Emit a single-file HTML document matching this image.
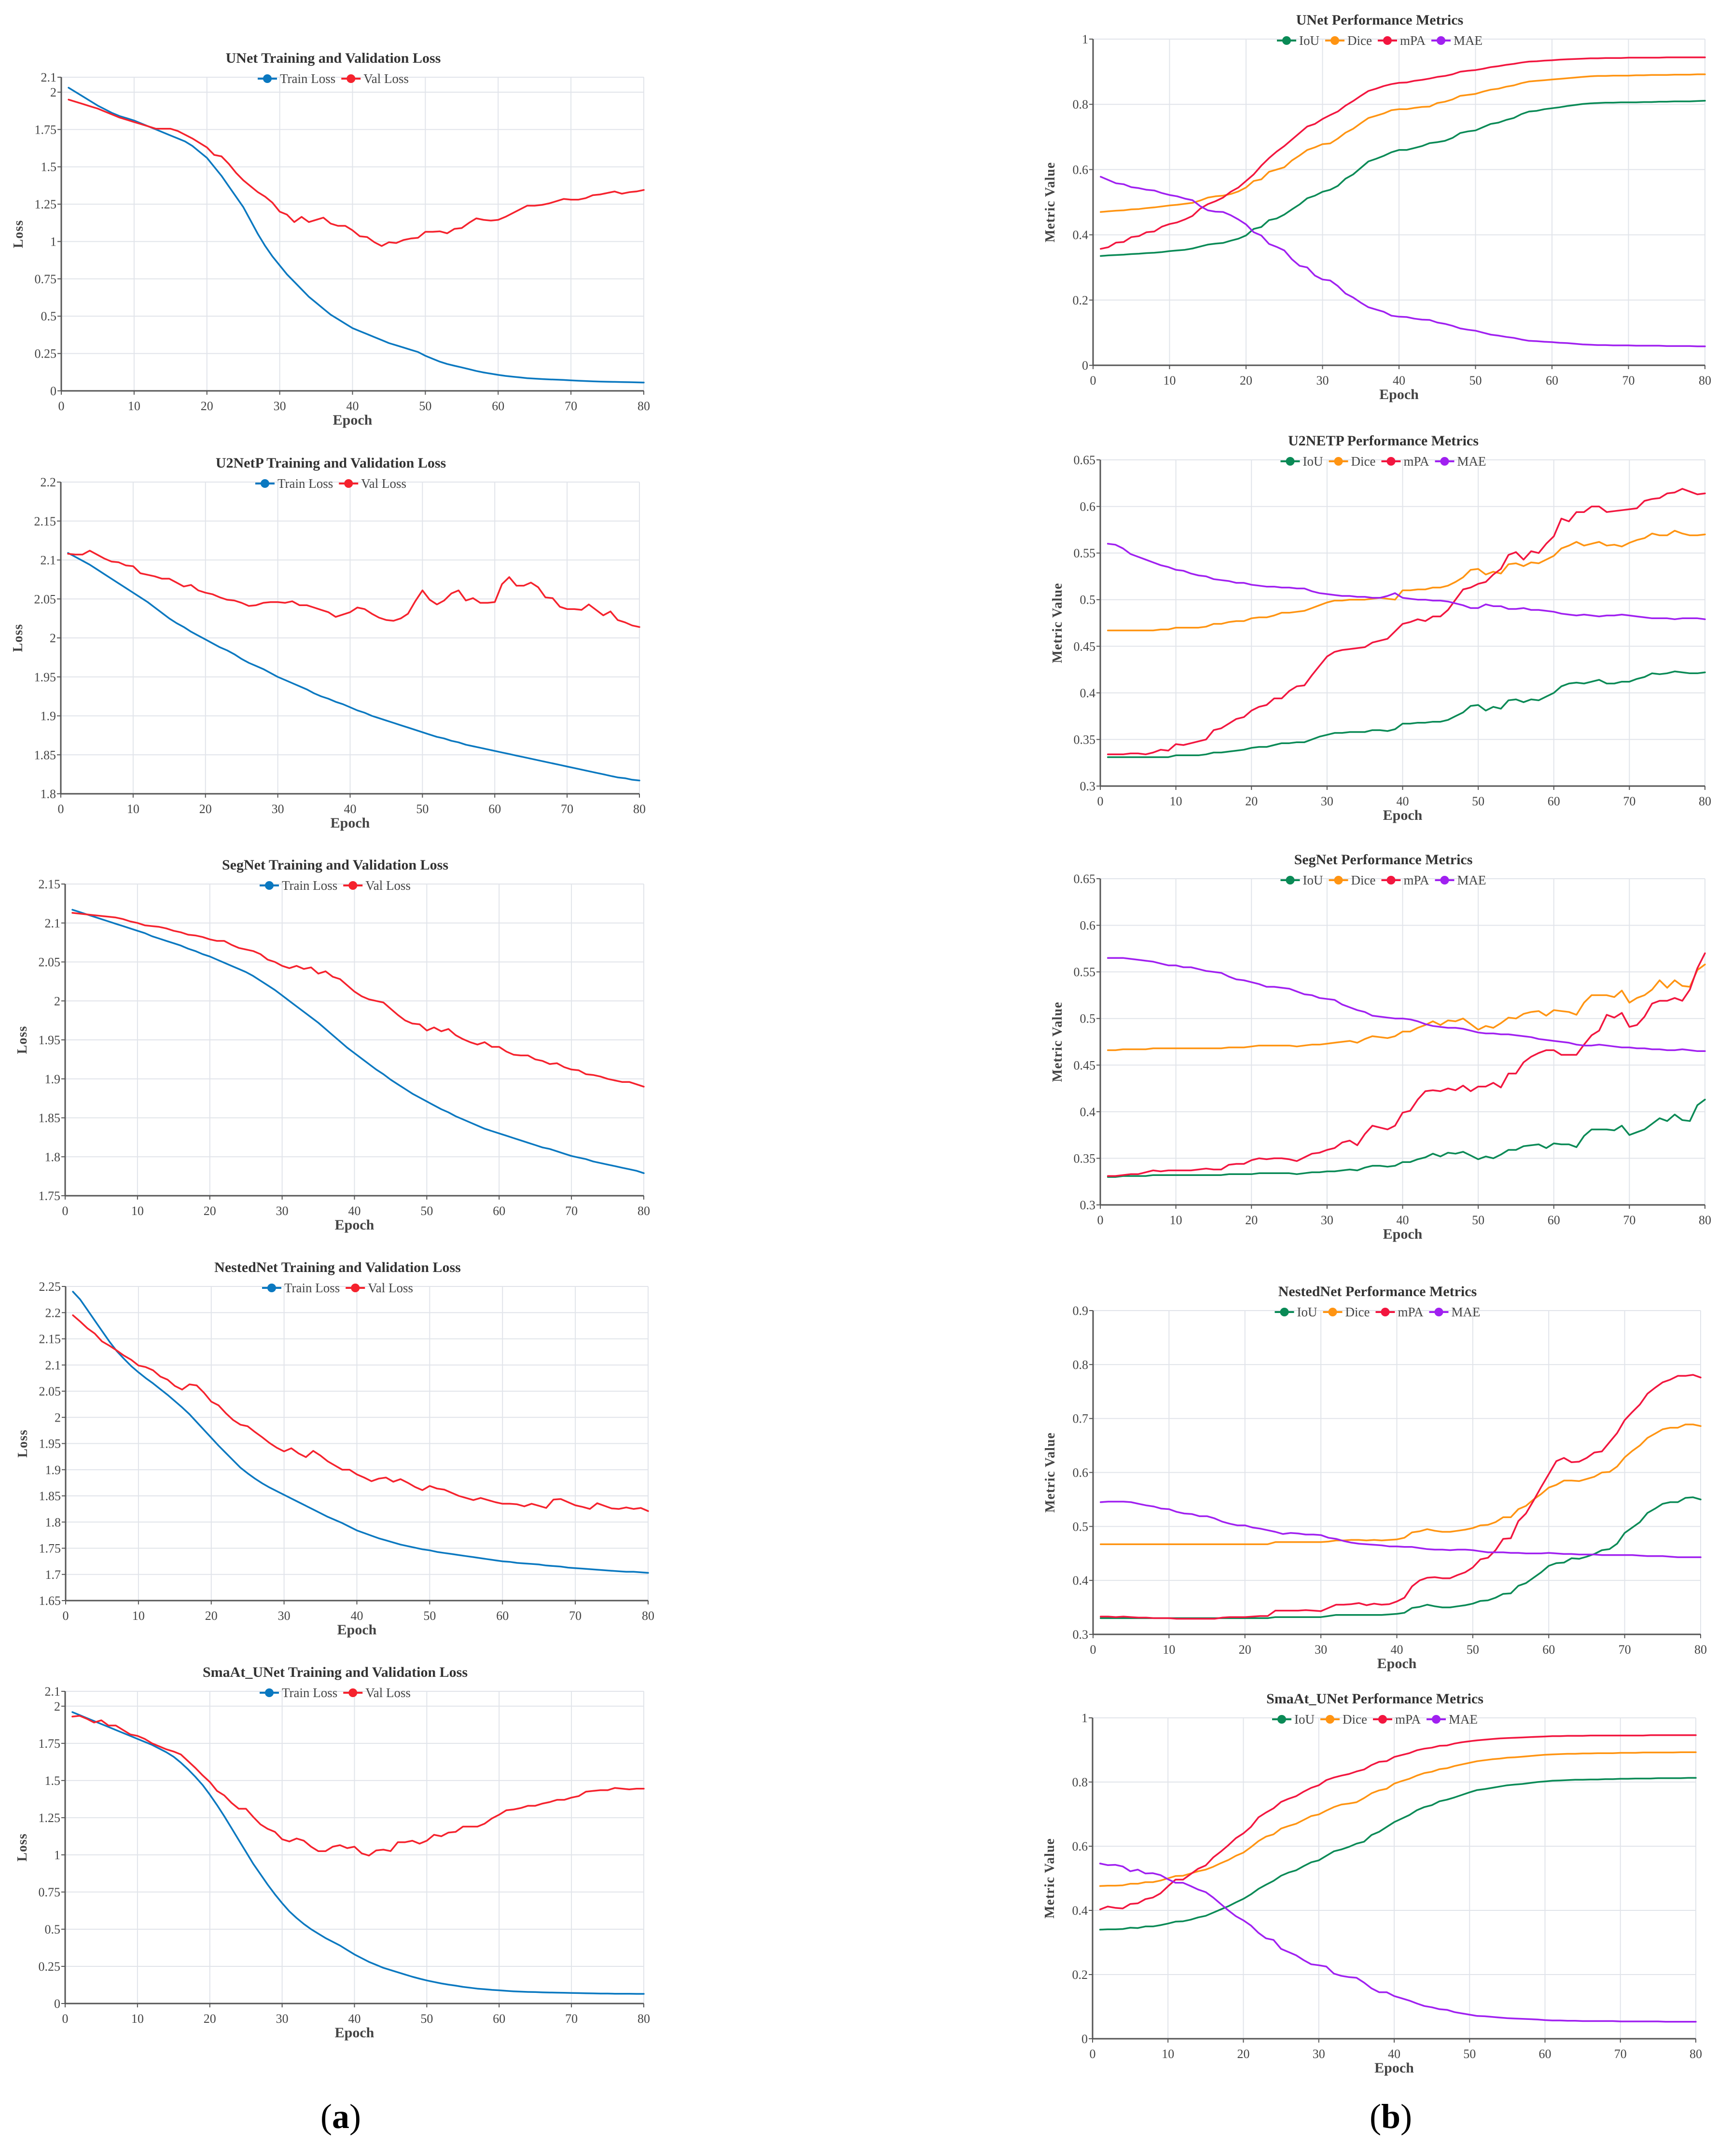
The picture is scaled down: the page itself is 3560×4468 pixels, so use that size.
<!DOCTYPE html>
<html><head><meta charset="utf-8"><style>
html,body{margin:0;padding:0;background:#fff;}
svg{display:block;font-family:"Liberation Serif",serif;}
</style></head><body>
<svg id="fig" width="3560" height="4468" viewBox="0 0 3560 4468" xmlns="http://www.w3.org/2000/svg">
<rect width="3560" height="4468" fill="#fff"/>
<text x="706" y="4410" font-size="72" text-anchor="middle" fill="#000">(<tspan font-weight="bold">a</tspan>)</text>
<text x="2882" y="4410" font-size="72" text-anchor="middle" fill="#000">(<tspan font-weight="bold">b</tspan>)</text>
</svg>
<script>
const epochs = Array.from({length:80},(_,i)=>i+1);
const xTicks = [0,10,20,30,40,50,60,70,80];

const unetTrain = [2.03,2.0,1.97,1.94,1.91,1.885,1.86,1.84,1.825,1.81,1.79,1.77,1.75,1.73,1.71,1.69,1.67,1.64,1.6,1.56,1.5,1.44,1.37,1.3,1.23,1.14,1.05,0.97,0.9,0.84,0.78,0.73,0.68,0.63,0.59,0.55,0.51,0.48,0.45,0.42,0.4,0.38,0.36,0.34,0.32,0.305,0.29,0.275,0.26,0.235,0.215,0.195,0.18,0.168,0.157,0.145,0.133,0.123,0.115,0.107,0.1,0.095,0.09,0.085,0.082,0.079,0.077,0.075,0.073,0.07,0.068,0.066,0.064,0.062,0.061,0.06,0.059,0.058,0.057,0.056];
const unetVal = [1.95,1.935,1.92,1.905,1.89,1.87,1.85,1.83,1.815,1.8,1.785,1.77,1.755,1.755,1.755,1.74,1.715,1.69,1.66,1.63,1.58,1.57,1.52,1.46,1.41,1.37,1.33,1.3,1.26,1.2,1.18,1.13,1.165,1.13,1.145,1.16,1.12,1.105,1.105,1.075,1.035,1.03,0.995,0.97,0.995,0.99,1.01,1.02,1.025,1.065,1.065,1.068,1.055,1.085,1.09,1.125,1.155,1.145,1.14,1.145,1.165,1.19,1.215,1.24,1.24,1.245,1.255,1.27,1.285,1.28,1.28,1.29,1.31,1.315,1.325,1.335,1.32,1.33,1.335,1.345];

const u2Train = [2.109,2.104,2.099,2.094,2.088,2.082,2.076,2.07,2.064,2.058,2.052,2.046,2.039,2.032,2.025,2.019,2.014,2.008,2.003,1.998,1.993,1.988,1.984,1.979,1.973,1.968,1.964,1.96,1.955,1.95,1.946,1.942,1.938,1.934,1.929,1.925,1.922,1.918,1.915,1.911,1.907,1.904,1.9,1.897,1.894,1.891,1.888,1.885,1.882,1.879,1.876,1.873,1.871,1.868,1.866,1.863,1.861,1.859,1.857,1.855,1.853,1.851,1.849,1.847,1.845,1.843,1.841,1.839,1.837,1.835,1.833,1.831,1.829,1.827,1.825,1.823,1.821,1.82,1.818,1.817];
const u2Val = [2.108,2.107,2.107,2.112,2.107,2.102,2.098,2.097,2.093,2.092,2.083,2.081,2.079,2.076,2.076,2.071,2.066,2.068,2.061,2.058,2.056,2.052,2.049,2.048,2.045,2.041,2.042,2.045,2.046,2.046,2.045,2.047,2.042,2.042,2.039,2.036,2.033,2.027,2.03,2.033,2.039,2.037,2.031,2.026,2.023,2.022,2.025,2.031,2.047,2.061,2.049,2.043,2.048,2.057,2.061,2.048,2.051,2.045,2.045,2.046,2.069,2.078,2.067,2.067,2.071,2.065,2.052,2.051,2.04,2.037,2.037,2.036,2.043,2.036,2.029,2.034,2.023,2.02,2.016,2.014];

const segTrain = [2.117,2.114,2.111,2.108,2.105,2.102,2.099,2.096,2.093,2.09,2.087,2.083,2.08,2.077,2.074,2.071,2.067,2.064,2.06,2.057,2.053,2.049,2.045,2.041,2.037,2.032,2.026,2.02,2.014,2.007,2.0,1.993,1.986,1.979,1.972,1.964,1.956,1.948,1.94,1.933,1.926,1.919,1.912,1.906,1.899,1.893,1.887,1.881,1.876,1.871,1.866,1.861,1.857,1.852,1.848,1.844,1.84,1.836,1.833,1.83,1.827,1.824,1.821,1.818,1.815,1.812,1.81,1.807,1.804,1.801,1.799,1.797,1.794,1.792,1.79,1.788,1.786,1.784,1.782,1.779];
const segVal = [2.113,2.112,2.111,2.11,2.109,2.108,2.107,2.105,2.102,2.1,2.097,2.096,2.095,2.093,2.09,2.088,2.085,2.084,2.082,2.079,2.077,2.077,2.072,2.068,2.066,2.064,2.06,2.053,2.05,2.045,2.042,2.045,2.041,2.043,2.035,2.038,2.031,2.028,2.02,2.012,2.006,2.002,2.0,1.998,1.99,1.982,1.975,1.971,1.97,1.962,1.966,1.961,1.964,1.956,1.951,1.947,1.944,1.947,1.941,1.941,1.935,1.931,1.93,1.93,1.925,1.923,1.919,1.92,1.915,1.912,1.911,1.906,1.905,1.903,1.9,1.898,1.896,1.896,1.893,1.89];

const nestTrain = [2.24,2.225,2.205,2.185,2.165,2.145,2.127,2.112,2.098,2.086,2.075,2.065,2.054,2.043,2.031,2.019,2.006,1.991,1.976,1.961,1.946,1.932,1.918,1.904,1.893,1.883,1.874,1.866,1.859,1.852,1.845,1.838,1.831,1.824,1.817,1.81,1.804,1.798,1.791,1.784,1.779,1.774,1.769,1.765,1.761,1.757,1.754,1.751,1.748,1.746,1.743,1.741,1.739,1.737,1.735,1.733,1.731,1.729,1.727,1.725,1.724,1.722,1.721,1.72,1.719,1.717,1.716,1.715,1.713,1.712,1.711,1.71,1.709,1.708,1.707,1.706,1.705,1.705,1.704,1.703];
const nestVal = [2.195,2.183,2.17,2.16,2.145,2.137,2.128,2.118,2.11,2.099,2.096,2.09,2.078,2.072,2.06,2.053,2.063,2.061,2.047,2.03,2.023,2.008,1.995,1.986,1.983,1.972,1.962,1.951,1.942,1.935,1.941,1.931,1.924,1.936,1.927,1.916,1.908,1.9,1.9,1.891,1.885,1.878,1.883,1.885,1.877,1.882,1.875,1.867,1.861,1.869,1.864,1.862,1.856,1.85,1.846,1.842,1.846,1.842,1.838,1.835,1.835,1.834,1.83,1.835,1.831,1.827,1.843,1.844,1.838,1.832,1.829,1.825,1.836,1.831,1.826,1.825,1.828,1.825,1.827,1.821];

const smaTrain = [1.96,1.94,1.92,1.9,1.88,1.86,1.84,1.82,1.8,1.78,1.76,1.74,1.715,1.69,1.66,1.62,1.575,1.525,1.47,1.405,1.335,1.26,1.18,1.1,1.02,0.94,0.87,0.8,0.735,0.675,0.62,0.575,0.535,0.5,0.47,0.44,0.415,0.39,0.36,0.33,0.305,0.28,0.26,0.24,0.225,0.21,0.195,0.18,0.167,0.155,0.145,0.135,0.127,0.12,0.112,0.106,0.1,0.096,0.092,0.089,0.085,0.082,0.08,0.078,0.077,0.075,0.074,0.073,0.072,0.071,0.07,0.069,0.068,0.067,0.067,0.066,0.066,0.066,0.065,0.065];
const smaVal = [1.93,1.935,1.915,1.89,1.905,1.87,1.87,1.84,1.81,1.8,1.78,1.75,1.73,1.71,1.695,1.675,1.63,1.585,1.535,1.49,1.43,1.4,1.35,1.31,1.31,1.255,1.205,1.175,1.155,1.105,1.09,1.11,1.095,1.055,1.025,1.025,1.055,1.065,1.045,1.055,1.01,0.995,1.03,1.035,1.025,1.085,1.085,1.095,1.075,1.095,1.135,1.125,1.15,1.155,1.19,1.19,1.19,1.21,1.245,1.27,1.3,1.305,1.315,1.33,1.33,1.345,1.355,1.37,1.37,1.385,1.395,1.425,1.43,1.435,1.435,1.45,1.445,1.44,1.445,1.445];

const unetIoU = [0.335,0.337,0.338,0.339,0.341,0.342,0.344,0.345,0.347,0.35,0.352,0.354,0.358,0.364,0.37,0.373,0.375,0.382,0.388,0.398,0.418,0.424,0.445,0.45,0.462,0.478,0.493,0.512,0.52,0.532,0.538,0.55,0.572,0.585,0.605,0.625,0.633,0.642,0.653,0.66,0.66,0.666,0.672,0.681,0.684,0.688,0.697,0.712,0.717,0.72,0.73,0.74,0.744,0.752,0.758,0.77,0.778,0.78,0.785,0.788,0.791,0.795,0.798,0.801,0.803,0.804,0.805,0.805,0.806,0.806,0.806,0.807,0.807,0.808,0.808,0.809,0.809,0.809,0.81,0.811];
const unetDice = [0.47,0.472,0.474,0.475,0.478,0.479,0.482,0.484,0.487,0.49,0.492,0.495,0.498,0.505,0.514,0.518,0.52,0.525,0.533,0.545,0.565,0.57,0.593,0.6,0.607,0.628,0.643,0.66,0.668,0.678,0.68,0.695,0.713,0.725,0.742,0.758,0.765,0.772,0.782,0.785,0.785,0.789,0.792,0.793,0.804,0.808,0.815,0.826,0.829,0.832,0.839,0.845,0.848,0.854,0.858,0.865,0.87,0.872,0.874,0.876,0.878,0.88,0.882,0.884,0.886,0.887,0.887,0.888,0.888,0.888,0.889,0.889,0.89,0.89,0.89,0.891,0.891,0.891,0.892,0.892];
const unetMPA = [0.357,0.362,0.376,0.378,0.393,0.396,0.408,0.41,0.425,0.433,0.438,0.447,0.458,0.48,0.494,0.503,0.514,0.532,0.545,0.565,0.585,0.612,0.635,0.655,0.672,0.692,0.712,0.732,0.74,0.755,0.767,0.778,0.796,0.81,0.826,0.841,0.848,0.856,0.862,0.866,0.867,0.872,0.875,0.879,0.884,0.887,0.892,0.9,0.903,0.905,0.909,0.914,0.917,0.921,0.924,0.928,0.931,0.932,0.934,0.935,0.937,0.938,0.939,0.94,0.941,0.941,0.942,0.942,0.942,0.943,0.943,0.943,0.943,0.943,0.944,0.944,0.944,0.944,0.944,0.944];
const unetMAE = [0.578,0.568,0.558,0.555,0.546,0.543,0.538,0.536,0.528,0.522,0.518,0.511,0.506,0.488,0.475,0.471,0.47,0.46,0.447,0.432,0.408,0.398,0.372,0.363,0.352,0.325,0.305,0.3,0.275,0.263,0.26,0.243,0.22,0.208,0.192,0.178,0.171,0.164,0.152,0.149,0.148,0.143,0.14,0.139,0.131,0.127,0.121,0.113,0.109,0.106,0.1,0.094,0.091,0.087,0.084,0.079,0.075,0.074,0.072,0.071,0.069,0.068,0.066,0.064,0.063,0.062,0.062,0.061,0.061,0.061,0.06,0.06,0.06,0.06,0.059,0.059,0.059,0.059,0.058,0.058];

const u2IoU = [0.331,0.331,0.331,0.331,0.331,0.331,0.331,0.331,0.331,0.333,0.333,0.333,0.333,0.334,0.336,0.336,0.337,0.338,0.339,0.341,0.342,0.342,0.344,0.346,0.346,0.347,0.347,0.35,0.353,0.355,0.357,0.357,0.358,0.358,0.358,0.36,0.36,0.359,0.361,0.367,0.367,0.368,0.368,0.369,0.369,0.371,0.375,0.379,0.386,0.387,0.381,0.385,0.383,0.392,0.393,0.39,0.393,0.392,0.396,0.4,0.407,0.41,0.411,0.41,0.412,0.414,0.41,0.41,0.412,0.412,0.415,0.417,0.421,0.42,0.421,0.423,0.422,0.421,0.421,0.422];
const u2Dice = [0.467,0.467,0.467,0.467,0.467,0.467,0.467,0.468,0.468,0.47,0.47,0.47,0.47,0.471,0.474,0.474,0.476,0.477,0.477,0.48,0.481,0.481,0.483,0.486,0.486,0.487,0.488,0.491,0.494,0.497,0.499,0.499,0.5,0.5,0.5,0.501,0.502,0.501,0.5,0.51,0.51,0.511,0.511,0.513,0.513,0.515,0.519,0.524,0.532,0.533,0.527,0.53,0.528,0.538,0.539,0.536,0.54,0.539,0.543,0.547,0.555,0.558,0.562,0.558,0.56,0.562,0.558,0.559,0.557,0.561,0.564,0.566,0.571,0.569,0.569,0.574,0.571,0.569,0.569,0.57];
const u2MPA = [0.334,0.334,0.334,0.335,0.335,0.334,0.336,0.339,0.338,0.345,0.344,0.346,0.348,0.35,0.36,0.362,0.367,0.372,0.374,0.381,0.385,0.387,0.394,0.394,0.402,0.407,0.408,0.419,0.429,0.439,0.444,0.446,0.447,0.448,0.449,0.454,0.456,0.458,0.466,0.474,0.476,0.479,0.477,0.482,0.482,0.489,0.5,0.511,0.513,0.517,0.519,0.527,0.533,0.548,0.551,0.543,0.552,0.55,0.56,0.568,0.587,0.584,0.594,0.594,0.6,0.6,0.594,0.595,0.596,0.597,0.598,0.606,0.608,0.609,0.614,0.615,0.619,0.616,0.613,0.614];
const u2MAE = [0.56,0.559,0.555,0.549,0.546,0.543,0.54,0.537,0.535,0.532,0.531,0.528,0.526,0.525,0.522,0.521,0.52,0.518,0.518,0.516,0.515,0.514,0.514,0.513,0.513,0.512,0.512,0.509,0.507,0.506,0.505,0.504,0.504,0.503,0.503,0.502,0.502,0.504,0.507,0.502,0.501,0.5,0.5,0.499,0.499,0.498,0.496,0.494,0.491,0.491,0.495,0.493,0.493,0.49,0.49,0.491,0.489,0.489,0.488,0.487,0.485,0.484,0.483,0.484,0.483,0.482,0.483,0.483,0.484,0.483,0.482,0.481,0.48,0.48,0.48,0.479,0.48,0.48,0.48,0.479];

const segIoU = [0.33,0.33,0.331,0.331,0.331,0.331,0.332,0.332,0.332,0.332,0.332,0.332,0.332,0.332,0.332,0.332,0.333,0.333,0.333,0.333,0.334,0.334,0.334,0.334,0.334,0.333,0.334,0.335,0.335,0.336,0.336,0.337,0.338,0.337,0.34,0.342,0.342,0.341,0.342,0.346,0.346,0.349,0.351,0.355,0.352,0.356,0.355,0.357,0.353,0.349,0.352,0.35,0.354,0.359,0.359,0.363,0.364,0.365,0.361,0.366,0.365,0.365,0.362,0.374,0.381,0.381,0.381,0.38,0.385,0.375,0.378,0.381,0.387,0.393,0.39,0.397,0.391,0.39,0.407,0.413];
const segDice = [0.466,0.466,0.467,0.467,0.467,0.467,0.468,0.468,0.468,0.468,0.468,0.468,0.468,0.468,0.468,0.468,0.469,0.469,0.469,0.47,0.471,0.471,0.471,0.471,0.471,0.47,0.471,0.472,0.472,0.473,0.474,0.475,0.476,0.474,0.478,0.481,0.48,0.479,0.481,0.486,0.486,0.49,0.493,0.497,0.493,0.498,0.497,0.5,0.494,0.488,0.492,0.49,0.495,0.501,0.5,0.505,0.507,0.508,0.503,0.509,0.508,0.507,0.504,0.517,0.525,0.525,0.525,0.523,0.53,0.517,0.522,0.525,0.531,0.541,0.533,0.541,0.535,0.534,0.552,0.558];
const segMPA = [0.331,0.331,0.332,0.333,0.333,0.335,0.337,0.336,0.337,0.337,0.337,0.337,0.338,0.339,0.338,0.338,0.343,0.344,0.344,0.348,0.35,0.349,0.35,0.35,0.349,0.347,0.351,0.355,0.356,0.359,0.361,0.367,0.369,0.364,0.376,0.385,0.383,0.381,0.385,0.399,0.401,0.413,0.422,0.423,0.422,0.425,0.423,0.428,0.422,0.427,0.427,0.431,0.426,0.441,0.441,0.453,0.459,0.463,0.466,0.466,0.461,0.461,0.461,0.472,0.482,0.487,0.504,0.501,0.506,0.491,0.493,0.502,0.516,0.519,0.519,0.522,0.519,0.531,0.554,0.57];
const segMAE = [0.565,0.565,0.565,0.564,0.563,0.562,0.561,0.559,0.557,0.557,0.555,0.555,0.553,0.551,0.55,0.549,0.545,0.542,0.541,0.539,0.537,0.534,0.534,0.533,0.532,0.529,0.526,0.525,0.522,0.521,0.52,0.515,0.512,0.509,0.507,0.503,0.502,0.501,0.5,0.5,0.499,0.497,0.494,0.492,0.491,0.49,0.49,0.489,0.487,0.485,0.484,0.484,0.483,0.483,0.482,0.481,0.48,0.478,0.477,0.476,0.475,0.474,0.472,0.471,0.471,0.472,0.471,0.47,0.469,0.469,0.468,0.468,0.467,0.467,0.466,0.466,0.467,0.466,0.465,0.465];

const nestIoU = [0.33,0.33,0.33,0.33,0.33,0.33,0.33,0.33,0.33,0.33,0.33,0.33,0.33,0.33,0.33,0.33,0.33,0.33,0.33,0.33,0.33,0.33,0.33,0.332,0.332,0.332,0.332,0.332,0.332,0.332,0.334,0.336,0.336,0.336,0.336,0.336,0.336,0.336,0.337,0.338,0.34,0.349,0.351,0.355,0.352,0.35,0.35,0.352,0.354,0.357,0.362,0.363,0.368,0.375,0.376,0.39,0.395,0.405,0.415,0.427,0.432,0.433,0.441,0.44,0.444,0.449,0.456,0.458,0.468,0.488,0.498,0.508,0.525,0.533,0.542,0.545,0.545,0.553,0.554,0.55];
const nestDice = [0.467,0.467,0.467,0.467,0.467,0.467,0.467,0.467,0.467,0.467,0.467,0.467,0.467,0.467,0.467,0.467,0.467,0.467,0.467,0.467,0.467,0.467,0.467,0.471,0.471,0.471,0.471,0.471,0.471,0.471,0.472,0.474,0.474,0.475,0.475,0.474,0.475,0.474,0.475,0.476,0.479,0.489,0.491,0.495,0.492,0.49,0.49,0.492,0.494,0.497,0.502,0.503,0.508,0.517,0.517,0.532,0.538,0.55,0.56,0.572,0.577,0.585,0.585,0.584,0.588,0.592,0.6,0.601,0.611,0.628,0.64,0.65,0.664,0.672,0.68,0.683,0.683,0.689,0.689,0.686];
const nestMPA = [0.333,0.333,0.332,0.333,0.332,0.331,0.331,0.33,0.33,0.33,0.329,0.329,0.329,0.329,0.329,0.329,0.331,0.332,0.332,0.332,0.333,0.334,0.334,0.344,0.344,0.344,0.344,0.345,0.344,0.343,0.349,0.355,0.355,0.356,0.358,0.354,0.357,0.355,0.356,0.361,0.368,0.389,0.4,0.405,0.406,0.404,0.404,0.41,0.415,0.424,0.439,0.442,0.456,0.477,0.478,0.51,0.524,0.548,0.573,0.597,0.621,0.627,0.619,0.62,0.627,0.637,0.639,0.656,0.673,0.697,0.712,0.726,0.746,0.757,0.767,0.772,0.779,0.779,0.781,0.776];
const nestMAE = [0.545,0.546,0.546,0.546,0.545,0.542,0.539,0.537,0.533,0.532,0.527,0.524,0.523,0.519,0.519,0.515,0.509,0.505,0.502,0.502,0.498,0.496,0.493,0.49,0.486,0.488,0.487,0.485,0.485,0.484,0.479,0.477,0.473,0.47,0.468,0.467,0.466,0.465,0.463,0.463,0.462,0.462,0.46,0.458,0.457,0.457,0.456,0.457,0.457,0.456,0.454,0.452,0.452,0.452,0.451,0.451,0.45,0.45,0.45,0.451,0.45,0.449,0.449,0.448,0.448,0.448,0.447,0.447,0.447,0.447,0.447,0.446,0.445,0.445,0.445,0.444,0.443,0.443,0.443,0.443];

const smaIoU = [0.34,0.341,0.341,0.342,0.346,0.345,0.35,0.35,0.354,0.359,0.365,0.366,0.371,0.378,0.383,0.393,0.403,0.413,0.425,0.436,0.45,0.467,0.48,0.492,0.508,0.518,0.525,0.538,0.55,0.556,0.57,0.584,0.59,0.598,0.608,0.614,0.635,0.645,0.66,0.675,0.686,0.697,0.712,0.722,0.728,0.74,0.745,0.752,0.76,0.768,0.775,0.778,0.782,0.786,0.79,0.792,0.794,0.797,0.8,0.802,0.804,0.805,0.806,0.807,0.807,0.808,0.808,0.809,0.809,0.81,0.81,0.811,0.811,0.811,0.812,0.812,0.812,0.812,0.813,0.813];
const smaDice = [0.476,0.477,0.477,0.478,0.483,0.483,0.488,0.488,0.493,0.5,0.507,0.508,0.515,0.522,0.527,0.536,0.547,0.557,0.57,0.58,0.597,0.616,0.63,0.637,0.655,0.663,0.67,0.682,0.694,0.699,0.711,0.722,0.73,0.733,0.737,0.75,0.765,0.774,0.779,0.795,0.803,0.81,0.82,0.828,0.832,0.84,0.843,0.85,0.855,0.86,0.865,0.868,0.871,0.873,0.876,0.877,0.879,0.881,0.883,0.885,0.886,0.887,0.888,0.888,0.889,0.889,0.89,0.89,0.89,0.891,0.891,0.891,0.892,0.892,0.892,0.892,0.892,0.893,0.893,0.893];
const smaMPA = [0.403,0.412,0.408,0.406,0.42,0.422,0.435,0.44,0.453,0.475,0.496,0.496,0.513,0.53,0.54,0.565,0.583,0.603,0.625,0.64,0.66,0.69,0.705,0.718,0.738,0.748,0.756,0.77,0.782,0.79,0.806,0.814,0.82,0.825,0.833,0.839,0.853,0.863,0.865,0.878,0.884,0.89,0.899,0.904,0.907,0.913,0.914,0.92,0.924,0.927,0.93,0.932,0.934,0.936,0.937,0.938,0.939,0.94,0.941,0.942,0.943,0.943,0.944,0.944,0.944,0.945,0.945,0.945,0.945,0.945,0.945,0.945,0.945,0.946,0.946,0.946,0.946,0.946,0.946,0.946];
const smaMAE = [0.546,0.541,0.542,0.537,0.522,0.527,0.515,0.516,0.51,0.497,0.486,0.486,0.476,0.465,0.457,0.44,0.42,0.4,0.382,0.369,0.353,0.33,0.313,0.308,0.28,0.27,0.26,0.245,0.232,0.229,0.225,0.203,0.196,0.192,0.19,0.175,0.157,0.145,0.145,0.133,0.126,0.119,0.11,0.102,0.098,0.092,0.09,0.083,0.079,0.075,0.071,0.07,0.068,0.066,0.064,0.063,0.062,0.061,0.06,0.058,0.057,0.057,0.056,0.056,0.055,0.055,0.055,0.055,0.055,0.054,0.054,0.054,0.054,0.054,0.054,0.053,0.053,0.053,0.053,0.053];

const lossTicksA1 = [0,0.25,0.5,0.75,1,1.25,1.5,1.75,2,2.1];
const lossTicksA2 = [1.8,1.85,1.9,1.95,2,2.05,2.1,2.15,2.2];
const lossTicksA3 = [1.75,1.8,1.85,1.9,1.95,2,2.05,2.1,2.15];
const lossTicksA4 = [1.65,1.7,1.75,1.8,1.85,1.9,1.95,2,2.05,2.1,2.15,2.2,2.25];
const metricTicks1 = [0,0.2,0.4,0.6,0.8,1];
const metricTicks2 = [0.3,0.35,0.4,0.45,0.5,0.55,0.6,0.65];
const metricTicks4 = [0.3,0.4,0.5,0.6,0.7,0.8,0.9];

const C = {train:'#0a78c0', val:'#f5222d', iou:'#0a8a56', dice:'#ff9412', mpa:'#f2163f', mae:'#a020f0'};
const NS = 'http://www.w3.org/2000/svg';
const svg = document.getElementById('fig');

function el(tag, attrs, parent){
  const e = document.createElementNS(NS, tag);
  for (const k in attrs) e.setAttribute(k, attrs[k]);
  (parent||svg).appendChild(e);
  return e;
}
function fmt(v){ return String(+v.toFixed(2)); }

function drawChart(cfg){
  const g = el('g', {});
  
  
  const sx = e => cfg.x0 + e/80*(cfg.x1-cfg.x0);
  const sy = v => cfg.yB - (v-cfg.min)/(cfg.max-cfg.min)*(cfg.yB-cfg.yT);
  // grid
  xTicks.forEach(t => {
    const l = el('line', {x1:sx(t), x2:sx(t), y1:cfg.yT, y2:cfg.yB, stroke:'#e1e4ea', 'stroke-width':2}, g);
    
    
  });
  cfg.ticks.forEach(t => {
    const l = el('line', {x1:cfg.x0, x2:cfg.x1, y1:sy(t), y2:sy(t), stroke:'#e1e4ea', 'stroke-width':2}, g);
    
    
  });
  // axes
  const xa = el('line', {x1:cfg.x0, x2:cfg.x1, y1:cfg.yB, y2:cfg.yB, stroke:'#555', 'stroke-width':3}, g);
  
  
  const ya = el('line', {x1:cfg.x0, x2:cfg.x0, y1:cfg.yT, y2:cfg.yB, stroke:'#555', 'stroke-width':3}, g);
  
  
  xTicks.forEach(t => {
    el('line', {x1:sx(t), x2:sx(t), y1:cfg.yB, y2:cfg.yB+8, stroke:'#555', 'stroke-width':2}, g);
    const tx = el('text', {x:sx(t), y:cfg.yB+40, 'font-size':26, 'text-anchor':'middle', fill:'#444'}, g);
    tx.textContent = t;
    
    
  });
  cfg.ticks.forEach(t => {
    el('line', {x1:cfg.x0-8, x2:cfg.x0, y1:sy(t), y2:sy(t), stroke:'#555', 'stroke-width':2}, g);
    const tx = el('text', {x:cfg.x0-10, y:sy(t)+9, 'font-size':26, 'text-anchor':'end', fill:'#444'}, g);
    tx.textContent = fmt(t);
    
    
  });
  // series
  cfg.series.forEach(s => {
    const pts = epochs.map((e,i) => sx(e).toFixed(1)+','+sy(s.data[i]).toFixed(1)).join(' ');
    const p = el('polyline', {points:pts, fill:'none', stroke:s.color, 'stroke-width':3.5, 'stroke-linejoin':'round', 'stroke-linecap':'round'}, g);
    
    
  });
  const cx = (cfg.x0+cfg.x1)/2 - 40;
  // title
  const tt = el('text', {x:cx, y:cfg.yT-30, 'font-size':30, 'font-weight':'bold', 'text-anchor':'middle', fill:'#333'}, g);
  tt.textContent = cfg.title;
  
  
  // axis titles
  const xt = el('text', {x:(cfg.x0+cfg.x1)/2, y:cfg.yB+70, 'font-size':30, 'font-weight':'bold', 'text-anchor':'middle', fill:'#444'}, g);
  xt.textContent = 'Epoch';
  
  
  const ay = (cfg.yT+cfg.yB)/2;
  const yt = el('text', {x:cfg.x0-80, y:ay, 'font-size':28, 'font-weight':'bold', 'text-anchor':'middle', fill:'#444', transform:'rotate(-90 '+(cfg.x0-80)+' '+ay+')', 'letter-spacing':1}, g);
  yt.textContent = cfg.ytitle;
  
  
  // legend
  const lg = el('g', {}, g);
  
  
  let x = 0; const ly = cfg.yT + 3;
  const items = [];
  cfg.series.forEach(s => {
    const it = el('g', {}, lg);
    
    
    el('line', {x1:x, x2:x+40, y1:ly, y2:ly, stroke:s.color, 'stroke-width':4}, it);
    el('circle', {cx:x+20, cy:ly, r:9, fill:s.color}, it);
    const t = el('text', {x:x+46, y:ly+9, 'font-size':27, fill:'#444'}, it);
    t.textContent = s.label;
    let w = 0; try { w = t.getComputedTextLength(); } catch(e) { w = s.label.length*12; }
    if (!w) w = s.label.length*12;
    x += 46 + w + 12;
  });
  const total = x - 12;
  lg.setAttribute('transform', 'translate(' + (cx - total/2) + ',0)');
}

const lossSeries = (tr, va) => [
  {id:'train-loss-line', label:'Train Loss', color:C.train, data:tr},
  {id:'val-loss-line', label:'Val Loss', color:C.val, data:va}
];
const metSeries = (a,b,c,d) => [
  {id:'iou-line', label:'IoU', color:C.iou, data:a},
  {id:'dice-line', label:'Dice', color:C.dice, data:b},
  {id:'mpa-line', label:'mPA', color:C.mpa, data:c},
  {id:'mae-line', label:'MAE', color:C.mae, data:d}
];

drawChart({name:'unet-loss-chart', title:'UNet Training and Validation Loss', ytitle:'Loss', x0:127, x1:1334, yT:160, yB:810, min:0, max:2.1, ticks:lossTicksA1, series:lossSeries(unetTrain, unetVal)});
drawChart({name:'u2netp-loss-chart', title:'U2NetP Training and Validation Loss', ytitle:'Loss', x0:126, x1:1325, yT:999, yB:1645, min:1.8, max:2.2, ticks:lossTicksA2, series:lossSeries(u2Train, u2Val)});
drawChart({name:'segnet-loss-chart', title:'SegNet Training and Validation Loss', ytitle:'Loss', x0:135, x1:1334, yT:1832, yB:2478, min:1.75, max:2.15, ticks:lossTicksA3, series:lossSeries(segTrain, segVal)});
drawChart({name:'nestednet-loss-chart', title:'NestedNet Training and Validation Loss', ytitle:'Loss', x0:136, x1:1343, yT:2666, yB:3317, min:1.65, max:2.25, ticks:lossTicksA4, series:lossSeries(nestTrain, nestVal)});
drawChart({name:'smaat-unet-loss-chart', title:'SmaAt_UNet Training and Validation Loss', ytitle:'Loss', x0:135, x1:1334, yT:3505, yB:4152, min:0, max:2.1, ticks:lossTicksA1, series:lossSeries(smaTrain, smaVal)});

drawChart({name:'unet-metrics-chart', title:'UNet Performance Metrics', ytitle:'Metric Value', x0:2265, x1:3533, yT:81, yB:757, min:0, max:1, ticks:metricTicks1, series:metSeries(unetIoU, unetDice, unetMPA, unetMAE)});
drawChart({name:'u2netp-metrics-chart', title:'U2NETP Performance Metrics', ytitle:'Metric Value', x0:2280, x1:3533, yT:953, yB:1629, min:0.3, max:0.65, ticks:metricTicks2, series:metSeries(u2IoU, u2Dice, u2MPA, u2MAE)});
drawChart({name:'segnet-metrics-chart', title:'SegNet Performance Metrics', ytitle:'Metric Value', x0:2280, x1:3533, yT:1821, yB:2497, min:0.3, max:0.65, ticks:metricTicks2, series:metSeries(segIoU, segDice, segMPA, segMAE)});
drawChart({name:'nestednet-metrics-chart', title:'NestedNet Performance Metrics', ytitle:'Metric Value', x0:2265, x1:3524, yT:2716, yB:3387, min:0.3, max:0.9, ticks:metricTicks4, series:metSeries(nestIoU, nestDice, nestMPA, nestMAE)});
drawChart({name:'smaat-unet-metrics-chart', title:'SmaAt_UNet Performance Metrics', ytitle:'Metric Value', x0:2264, x1:3514, yT:3560, yB:4225, min:0, max:1, ticks:metricTicks1, series:metSeries(smaIoU, smaDice, smaMPA, smaMAE)});
</script>
</body></html>
